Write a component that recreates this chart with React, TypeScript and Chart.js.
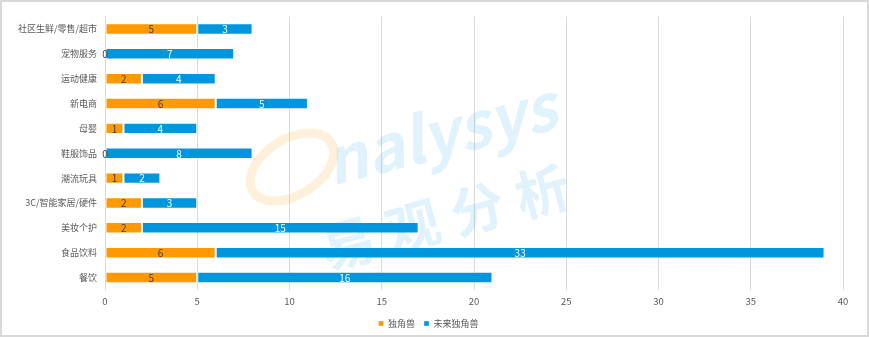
import React, { useEffect, useRef } from "react";
import { Chart, registerables } from "chart.js";

Chart.register(...registerables);

const categories = [
  "社区生鲜/零售/超市",
  "宠物服务",
  "运动健康",
  "新电商",
  "母婴",
  "鞋服饰品",
  "潮流玩具",
  "3C/智能家居/硬件",
  "美妆个护",
  "食品饮料",
  "餐饮",
];
const unicornValues = [5, 0, 2, 6, 1, 0, 1, 2, 2, 6, 5];
const futureUnicornValues = [3, 7, 4, 5, 4, 8, 2, 3, 15, 33, 16];
const seriesNames = ["独角兽", "未来独角兽"];

const FONT = "'Noto Sans CJK SC', 'Noto Sans', sans-serif";

const labelPlugin = {
  id: "barLabels",
  afterDatasetsDraw(chart: any) {
    const ctx = chart.ctx;
    ctx.save();
    ctx.font = `10px ${FONT}`;
    ctx.textAlign = "center";
    ctx.textBaseline = "middle";
    chart.data.datasets.forEach((ds: any, di: number) => {
      const meta = chart.getDatasetMeta(di);
      meta.data.forEach((el: any, i: number) => {
        const v = ds.data[i];
        const x = (el.x + el.base) / 2;
        ctx.fillStyle = di === 0 ? "#404040" : "#ffffff";
        ctx.fillText(String(v), x, el.y + 0.5);
      });
    });
    ctx.restore();
  },
};

const watermarkPlugin = {
  id: "watermark",
  afterDraw(chart: any) {
    const ctx = chart.ctx;
    ctx.save();
    // orange ring
    ctx.strokeStyle = "rgba(255,160,40,0.16)";
    ctx.lineWidth = 9;
    ctx.beginPath();
    ctx.ellipse(290, 165, 46, 28, -0.55, 0, Math.PI * 2);
    ctx.stroke();
    // nalysys
    ctx.fillStyle = "rgba(0,150,225,0.12)";
    ctx.translate(330, 184);
    ctx.rotate(-0.25);
    ctx.font = `italic bold 64px ${FONT}`;
    ctx.textBaseline = "alphabetic";
    ctx.fillText("nalysys", 0, 0);
    ctx.restore();
    ctx.save();
    ctx.fillStyle = "rgba(0,150,225,0.12)";
    ctx.translate(325, 268);
    ctx.rotate(-0.26);
    ctx.font = `bold 54px ${FONT}`;
    ctx.textBaseline = "alphabetic";
    const chars = ["易", "观", "分", "析"];
    chars.forEach((c, i) => ctx.fillText(c, i * 67, 0));
    ctx.restore();
  },
};

export default function App() {
  const ref = useRef<HTMLCanvasElement | null>(null);
  useEffect(() => {
    document.body.style.margin = "0";
    const chart = new Chart(ref.current as HTMLCanvasElement, {
      type: "bar",
      data: {
        labels: categories,
        datasets: [
          {
            label: seriesNames[0],
            data: unicornValues,
            backgroundColor: "#FF9900",
            borderColor: "rgba(255,255,255,0.35)",
            borderWidth: 1,
            borderSkipped: false,
            barPercentage: 0.46,
            categoryPercentage: 1,
          },
          {
            label: seriesNames[1],
            data: futureUnicornValues,
            backgroundColor: "#0096DD",
            borderColor: "rgba(255,255,255,0.35)",
            borderWidth: 1,
            borderSkipped: false,
            barPercentage: 0.46,
            categoryPercentage: 1,
          },
        ],
      },
      options: {
        indexAxis: "y",
        animation: false,
        responsive: false,
        maintainAspectRatio: false,
        layout: { padding: { left: 12, right: 24, top: 14.5, bottom: -3 } },
        scales: {
          x: {
            stacked: true,
            min: 0,
            max: 40,
            ticks: {
              stepSize: 5,
              color: "#595959",
              font: { family: FONT, size: 9.5 },
              padding: 6,
            },
            grid: { color: "#d9d9d9", drawTicks: false },
            border: { display: false },
            afterFit: (s: any) => {
              s.height = 20;
            },
          },
          y: {
            stacked: true,
            ticks: {
              color: "#595959",
              font: { family: FONT, size: 9 },
              padding: 8,
            },
            grid: { display: false, drawTicks: false },
            border: { display: false },
            afterFit: (s: any) => {
              s.width = 91;
            },
          },
        },
        plugins: {
          legend: {
            position: "bottom",
            labels: {
              boxWidth: 5,
              boxHeight: 5,
              color: "#595959",
              font: { family: FONT, size: 9 },
              padding: 9,
            },
          },
          tooltip: { enabled: false },
        },
      },
      plugins: [labelPlugin, watermarkPlugin],
    });
    return () => chart.destroy();
  }, []);
  return (
    <div
      style={{
        width: 869,
        height: 337,
        boxSizing: "border-box",
        border: "2px solid #d9d9d9",
        background: "#fff",
      }}
    >
      <canvas ref={ref} width={865} height={333} style={{ display: "block" }} />
    </div>
  );
}
